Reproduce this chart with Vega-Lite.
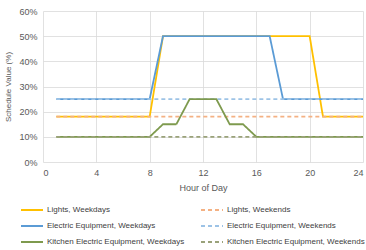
{
  "$schema": "https://vega.github.io/schema/vega-lite/v6.json",
  "width": 320,
  "height": 151,
  "autosize": "none",
  "padding": {"left": 43, "top": 11, "right": 3, "bottom": 88},
  "background": "white",
  "config": {
    "view": {"stroke": null},
    "font": "Liberation Sans",
    "axis": {"labelColor": "#595959", "titleColor": "#595959", "gridColor": "#D9D9D9", "gridWidth": 0.8, "domain": false, "ticks": false, "labelFontSize": 9, "titleFontWeight": "normal"}
  },
  "data": {"values": [
    {"series": "Lights, Weekdays", "hour": 1, "value": 0.18},
    {"series": "Lights, Weekdays", "hour": 2, "value": 0.18},
    {"series": "Lights, Weekdays", "hour": 3, "value": 0.18},
    {"series": "Lights, Weekdays", "hour": 4, "value": 0.18},
    {"series": "Lights, Weekdays", "hour": 5, "value": 0.18},
    {"series": "Lights, Weekdays", "hour": 6, "value": 0.18},
    {"series": "Lights, Weekdays", "hour": 7, "value": 0.18},
    {"series": "Lights, Weekdays", "hour": 8, "value": 0.18},
    {"series": "Lights, Weekdays", "hour": 9, "value": 0.5},
    {"series": "Lights, Weekdays", "hour": 10, "value": 0.5},
    {"series": "Lights, Weekdays", "hour": 11, "value": 0.5},
    {"series": "Lights, Weekdays", "hour": 12, "value": 0.5},
    {"series": "Lights, Weekdays", "hour": 13, "value": 0.5},
    {"series": "Lights, Weekdays", "hour": 14, "value": 0.5},
    {"series": "Lights, Weekdays", "hour": 15, "value": 0.5},
    {"series": "Lights, Weekdays", "hour": 16, "value": 0.5},
    {"series": "Lights, Weekdays", "hour": 17, "value": 0.5},
    {"series": "Lights, Weekdays", "hour": 18, "value": 0.5},
    {"series": "Lights, Weekdays", "hour": 19, "value": 0.5},
    {"series": "Lights, Weekdays", "hour": 20, "value": 0.5},
    {"series": "Lights, Weekdays", "hour": 21, "value": 0.18},
    {"series": "Lights, Weekdays", "hour": 22, "value": 0.18},
    {"series": "Lights, Weekdays", "hour": 23, "value": 0.18},
    {"series": "Lights, Weekdays", "hour": 24, "value": 0.18},
    {"series": "Lights, Weekends", "hour": 1, "value": 0.18},
    {"series": "Lights, Weekends", "hour": 2, "value": 0.18},
    {"series": "Lights, Weekends", "hour": 3, "value": 0.18},
    {"series": "Lights, Weekends", "hour": 4, "value": 0.18},
    {"series": "Lights, Weekends", "hour": 5, "value": 0.18},
    {"series": "Lights, Weekends", "hour": 6, "value": 0.18},
    {"series": "Lights, Weekends", "hour": 7, "value": 0.18},
    {"series": "Lights, Weekends", "hour": 8, "value": 0.18},
    {"series": "Lights, Weekends", "hour": 9, "value": 0.18},
    {"series": "Lights, Weekends", "hour": 10, "value": 0.18},
    {"series": "Lights, Weekends", "hour": 11, "value": 0.18},
    {"series": "Lights, Weekends", "hour": 12, "value": 0.18},
    {"series": "Lights, Weekends", "hour": 13, "value": 0.18},
    {"series": "Lights, Weekends", "hour": 14, "value": 0.18},
    {"series": "Lights, Weekends", "hour": 15, "value": 0.18},
    {"series": "Lights, Weekends", "hour": 16, "value": 0.18},
    {"series": "Lights, Weekends", "hour": 17, "value": 0.18},
    {"series": "Lights, Weekends", "hour": 18, "value": 0.18},
    {"series": "Lights, Weekends", "hour": 19, "value": 0.18},
    {"series": "Lights, Weekends", "hour": 20, "value": 0.18},
    {"series": "Lights, Weekends", "hour": 21, "value": 0.18},
    {"series": "Lights, Weekends", "hour": 22, "value": 0.18},
    {"series": "Lights, Weekends", "hour": 23, "value": 0.18},
    {"series": "Lights, Weekends", "hour": 24, "value": 0.18},
    {"series": "Electric Equipment, Weekdays", "hour": 1, "value": 0.25},
    {"series": "Electric Equipment, Weekdays", "hour": 2, "value": 0.25},
    {"series": "Electric Equipment, Weekdays", "hour": 3, "value": 0.25},
    {"series": "Electric Equipment, Weekdays", "hour": 4, "value": 0.25},
    {"series": "Electric Equipment, Weekdays", "hour": 5, "value": 0.25},
    {"series": "Electric Equipment, Weekdays", "hour": 6, "value": 0.25},
    {"series": "Electric Equipment, Weekdays", "hour": 7, "value": 0.25},
    {"series": "Electric Equipment, Weekdays", "hour": 8, "value": 0.25},
    {"series": "Electric Equipment, Weekdays", "hour": 9, "value": 0.5},
    {"series": "Electric Equipment, Weekdays", "hour": 10, "value": 0.5},
    {"series": "Electric Equipment, Weekdays", "hour": 11, "value": 0.5},
    {"series": "Electric Equipment, Weekdays", "hour": 12, "value": 0.5},
    {"series": "Electric Equipment, Weekdays", "hour": 13, "value": 0.5},
    {"series": "Electric Equipment, Weekdays", "hour": 14, "value": 0.5},
    {"series": "Electric Equipment, Weekdays", "hour": 15, "value": 0.5},
    {"series": "Electric Equipment, Weekdays", "hour": 16, "value": 0.5},
    {"series": "Electric Equipment, Weekdays", "hour": 17, "value": 0.5},
    {"series": "Electric Equipment, Weekdays", "hour": 18, "value": 0.25},
    {"series": "Electric Equipment, Weekdays", "hour": 19, "value": 0.25},
    {"series": "Electric Equipment, Weekdays", "hour": 20, "value": 0.25},
    {"series": "Electric Equipment, Weekdays", "hour": 21, "value": 0.25},
    {"series": "Electric Equipment, Weekdays", "hour": 22, "value": 0.25},
    {"series": "Electric Equipment, Weekdays", "hour": 23, "value": 0.25},
    {"series": "Electric Equipment, Weekdays", "hour": 24, "value": 0.25},
    {"series": "Electric Equipment, Weekends", "hour": 1, "value": 0.25},
    {"series": "Electric Equipment, Weekends", "hour": 2, "value": 0.25},
    {"series": "Electric Equipment, Weekends", "hour": 3, "value": 0.25},
    {"series": "Electric Equipment, Weekends", "hour": 4, "value": 0.25},
    {"series": "Electric Equipment, Weekends", "hour": 5, "value": 0.25},
    {"series": "Electric Equipment, Weekends", "hour": 6, "value": 0.25},
    {"series": "Electric Equipment, Weekends", "hour": 7, "value": 0.25},
    {"series": "Electric Equipment, Weekends", "hour": 8, "value": 0.25},
    {"series": "Electric Equipment, Weekends", "hour": 9, "value": 0.25},
    {"series": "Electric Equipment, Weekends", "hour": 10, "value": 0.25},
    {"series": "Electric Equipment, Weekends", "hour": 11, "value": 0.25},
    {"series": "Electric Equipment, Weekends", "hour": 12, "value": 0.25},
    {"series": "Electric Equipment, Weekends", "hour": 13, "value": 0.25},
    {"series": "Electric Equipment, Weekends", "hour": 14, "value": 0.25},
    {"series": "Electric Equipment, Weekends", "hour": 15, "value": 0.25},
    {"series": "Electric Equipment, Weekends", "hour": 16, "value": 0.25},
    {"series": "Electric Equipment, Weekends", "hour": 17, "value": 0.25},
    {"series": "Electric Equipment, Weekends", "hour": 18, "value": 0.25},
    {"series": "Electric Equipment, Weekends", "hour": 19, "value": 0.25},
    {"series": "Electric Equipment, Weekends", "hour": 20, "value": 0.25},
    {"series": "Electric Equipment, Weekends", "hour": 21, "value": 0.25},
    {"series": "Electric Equipment, Weekends", "hour": 22, "value": 0.25},
    {"series": "Electric Equipment, Weekends", "hour": 23, "value": 0.25},
    {"series": "Electric Equipment, Weekends", "hour": 24, "value": 0.25},
    {"series": "Kitchen Electric Equipment, Weekdays", "hour": 1, "value": 0.1},
    {"series": "Kitchen Electric Equipment, Weekdays", "hour": 2, "value": 0.1},
    {"series": "Kitchen Electric Equipment, Weekdays", "hour": 3, "value": 0.1},
    {"series": "Kitchen Electric Equipment, Weekdays", "hour": 4, "value": 0.1},
    {"series": "Kitchen Electric Equipment, Weekdays", "hour": 5, "value": 0.1},
    {"series": "Kitchen Electric Equipment, Weekdays", "hour": 6, "value": 0.1},
    {"series": "Kitchen Electric Equipment, Weekdays", "hour": 7, "value": 0.1},
    {"series": "Kitchen Electric Equipment, Weekdays", "hour": 8, "value": 0.1},
    {"series": "Kitchen Electric Equipment, Weekdays", "hour": 9, "value": 0.15},
    {"series": "Kitchen Electric Equipment, Weekdays", "hour": 10, "value": 0.15},
    {"series": "Kitchen Electric Equipment, Weekdays", "hour": 11, "value": 0.25},
    {"series": "Kitchen Electric Equipment, Weekdays", "hour": 12, "value": 0.25},
    {"series": "Kitchen Electric Equipment, Weekdays", "hour": 13, "value": 0.25},
    {"series": "Kitchen Electric Equipment, Weekdays", "hour": 14, "value": 0.15},
    {"series": "Kitchen Electric Equipment, Weekdays", "hour": 15, "value": 0.15},
    {"series": "Kitchen Electric Equipment, Weekdays", "hour": 16, "value": 0.1},
    {"series": "Kitchen Electric Equipment, Weekdays", "hour": 17, "value": 0.1},
    {"series": "Kitchen Electric Equipment, Weekdays", "hour": 18, "value": 0.1},
    {"series": "Kitchen Electric Equipment, Weekdays", "hour": 19, "value": 0.1},
    {"series": "Kitchen Electric Equipment, Weekdays", "hour": 20, "value": 0.1},
    {"series": "Kitchen Electric Equipment, Weekdays", "hour": 21, "value": 0.1},
    {"series": "Kitchen Electric Equipment, Weekdays", "hour": 22, "value": 0.1},
    {"series": "Kitchen Electric Equipment, Weekdays", "hour": 23, "value": 0.1},
    {"series": "Kitchen Electric Equipment, Weekdays", "hour": 24, "value": 0.1},
    {"series": "Kitchen Electric Equipment, Weekends", "hour": 1, "value": 0.1},
    {"series": "Kitchen Electric Equipment, Weekends", "hour": 2, "value": 0.1},
    {"series": "Kitchen Electric Equipment, Weekends", "hour": 3, "value": 0.1},
    {"series": "Kitchen Electric Equipment, Weekends", "hour": 4, "value": 0.1},
    {"series": "Kitchen Electric Equipment, Weekends", "hour": 5, "value": 0.1},
    {"series": "Kitchen Electric Equipment, Weekends", "hour": 6, "value": 0.1},
    {"series": "Kitchen Electric Equipment, Weekends", "hour": 7, "value": 0.1},
    {"series": "Kitchen Electric Equipment, Weekends", "hour": 8, "value": 0.1},
    {"series": "Kitchen Electric Equipment, Weekends", "hour": 9, "value": 0.1},
    {"series": "Kitchen Electric Equipment, Weekends", "hour": 10, "value": 0.1},
    {"series": "Kitchen Electric Equipment, Weekends", "hour": 11, "value": 0.1},
    {"series": "Kitchen Electric Equipment, Weekends", "hour": 12, "value": 0.1},
    {"series": "Kitchen Electric Equipment, Weekends", "hour": 13, "value": 0.1},
    {"series": "Kitchen Electric Equipment, Weekends", "hour": 14, "value": 0.1},
    {"series": "Kitchen Electric Equipment, Weekends", "hour": 15, "value": 0.1},
    {"series": "Kitchen Electric Equipment, Weekends", "hour": 16, "value": 0.1},
    {"series": "Kitchen Electric Equipment, Weekends", "hour": 17, "value": 0.1},
    {"series": "Kitchen Electric Equipment, Weekends", "hour": 18, "value": 0.1},
    {"series": "Kitchen Electric Equipment, Weekends", "hour": 19, "value": 0.1},
    {"series": "Kitchen Electric Equipment, Weekends", "hour": 20, "value": 0.1},
    {"series": "Kitchen Electric Equipment, Weekends", "hour": 21, "value": 0.1},
    {"series": "Kitchen Electric Equipment, Weekends", "hour": 22, "value": 0.1},
    {"series": "Kitchen Electric Equipment, Weekends", "hour": 23, "value": 0.1},
    {"series": "Kitchen Electric Equipment, Weekends", "hour": 24, "value": 0.1}
  ]},
  "mark": {"type": "line", "strokeWidth": 1.8},
  "encoding": {
    "x": {"field": "hour", "type": "quantitative", "scale": {"domain": [0, 24], "nice": false}, "axis": {"values": [0, 4, 8, 12, 16, 20, 24], "title": "Hour of Day", "titleFontSize": 9, "titlePadding": 6, "labelPadding": 6}},
    "y": {"field": "value", "type": "quantitative", "scale": {"domain": [0, 0.6], "nice": false}, "axis": {"values": [0, 0.1, 0.2, 0.3, 0.4, 0.5, 0.6], "format": ".0%", "title": "Schedule Value (%)", "titleFontSize": 8, "titlePadding": 6, "labelPadding": 6}},
    "color": {"field": "series", "type": "nominal",
      "scale": {"domain": ["Lights, Weekdays", "Electric Equipment, Weekdays", "Kitchen Electric Equipment, Weekdays", "Lights, Weekends", "Electric Equipment, Weekends", "Kitchen Electric Equipment, Weekends"],
        "range": ["#FFC000", "#5B9BD5", "#7E9A4E", "#F4B183", "#9DC3E6", "#9AA27A"]},
      "legend": {"title": null, "orient": "none", "legendX": -23, "legendY": 187, "columns": 2, "columnPadding": 12, "rowPadding": -6, "symbolType": "stroke", "symbolSize": 484, "symbolStrokeWidth": 1.8, "labelFontSize": 8, "labelColor": "#404040", "labelOffset": 3, "labelLimit": 200}},
    "strokeDash": {"field": "series", "type": "nominal",
      "scale": {"domain": ["Lights, Weekdays", "Electric Equipment, Weekdays", "Kitchen Electric Equipment, Weekdays", "Lights, Weekends", "Electric Equipment, Weekends", "Kitchen Electric Equipment, Weekends"],
        "range": [[1, 0], [1, 0], [1, 0], [4, 3], [4, 3], [4, 3]]},
      "legend": {"title": null, "orient": "none", "legendX": -23, "legendY": 187, "columns": 2, "columnPadding": 12, "rowPadding": -6, "symbolType": "stroke", "symbolSize": 484, "symbolStrokeWidth": 1.8, "labelFontSize": 8, "labelColor": "#404040", "labelOffset": 3, "labelLimit": 200}}
  }
}
